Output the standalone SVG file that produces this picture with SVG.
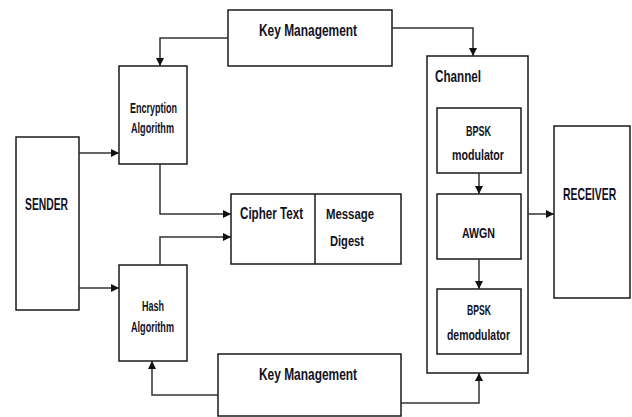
<svg xmlns="http://www.w3.org/2000/svg" width="632" height="417" viewBox="0 0 632 417">
  <style>
    .box { fill: #ffffff; stroke: #1a1a1a; stroke-width: 1.5; }
    .wire { fill: none; stroke: #333333; stroke-width: 1.5; marker-end: url(#arrow); }
    text { font-family: "Liberation Sans", Arial, sans-serif; fill: #111122; font-weight: bold; }
    .sm { font-size: 14px; }
    .lg { font-size: 16px; }
  </style>
  <defs>
    <marker id="arrow" viewBox="0 0 10 10" refX="10" refY="5" markerWidth="8" markerHeight="8" markerUnits="userSpaceOnUse" orient="auto">
      <path d="M0,0 L10,5 L0,10 Z" fill="#111111"/>
    </marker>
  </defs>
  <rect x="0" y="0" width="632" height="417" fill="#ffffff"/>

  <g id="key-management-top">
    <rect class="box" x="228" y="10" width="164" height="56"/>
    <text class="lg" x="259" y="36" textLength="98" lengthAdjust="spacingAndGlyphs">Key Management</text>
  </g>

  <g id="sender">
    <rect class="box" x="16" y="137" width="63" height="173"/>
    <text class="lg" x="25" y="210" textLength="43" lengthAdjust="spacingAndGlyphs">SENDER</text>
  </g>

  <g id="encryption">
    <rect class="box" x="119" y="66" width="68" height="98"/>
    <text class="sm" x="130" y="113" textLength="47" lengthAdjust="spacingAndGlyphs">Encryption</text>
    <text class="sm" x="131" y="133" textLength="43" lengthAdjust="spacingAndGlyphs">Algorithm</text>
  </g>

  <g id="hash">
    <rect class="box" x="119" y="265" width="68" height="96"/>
    <text class="sm" x="142" y="311" textLength="22" lengthAdjust="spacingAndGlyphs">Hash</text>
    <text class="sm" x="131" y="332" textLength="43" lengthAdjust="spacingAndGlyphs">Algorithm</text>
  </g>

  <g id="packet">
    <rect class="box" x="231" y="194" width="170" height="70"/>
    <line x1="315" y1="194" x2="315" y2="264" stroke="#1a1a1a" stroke-width="1.5"/>
    <text class="lg" x="240" y="219" textLength="63" lengthAdjust="spacingAndGlyphs">Cipher Text</text>
    <text class="sm" x="326" y="219" textLength="48" lengthAdjust="spacingAndGlyphs">Message</text>
    <text class="sm" x="330" y="246" textLength="34" lengthAdjust="spacingAndGlyphs">Digest</text>
  </g>

  <g id="channel">
    <rect class="box" x="427" y="56" width="101" height="317"/>
    <text class="lg" x="435" y="82" textLength="46" lengthAdjust="spacingAndGlyphs">Channel</text>
  </g>

  <g id="bpsk-modulator">
    <rect class="box" x="437" y="108" width="84" height="65"/>
    <text class="sm" x="466" y="136" textLength="25" lengthAdjust="spacingAndGlyphs">BPSK</text>
    <text class="sm" x="452" y="160" textLength="52" lengthAdjust="spacingAndGlyphs">modulator</text>
  </g>

  <g id="awgn">
    <rect class="box" x="437" y="194" width="84" height="65"/>
    <text class="sm" x="462" y="238" textLength="33" lengthAdjust="spacingAndGlyphs">AWGN</text>
  </g>

  <g id="bpsk-demodulator">
    <rect class="box" x="437" y="289" width="84" height="65"/>
    <text class="sm" x="467" y="315" textLength="24" lengthAdjust="spacingAndGlyphs">BPSK</text>
    <text class="sm" x="447" y="340" textLength="63" lengthAdjust="spacingAndGlyphs">demodulator</text>
  </g>

  <g id="receiver">
    <rect class="box" x="554" y="126" width="76" height="172"/>
    <!-- narrowed with a horizontal scale so the label stays inside the box -->
    <text class="lg" transform="translate(563,200) scale(0.65,1)">RECEIVER</text>
  </g>

  <g id="key-management-bottom">
    <rect class="box" x="218" y="354" width="183" height="62"/>
    <text class="lg" x="259" y="380" textLength="98" lengthAdjust="spacingAndGlyphs">Key Management</text>
  </g>

  <g id="connectors">
    <polyline class="wire" points="228,38 160,38 160,66"/>
    <polyline class="wire" points="392,28 473,28 473,56"/>
    <line class="wire" x1="79" y1="153" x2="119" y2="153"/>
    <line class="wire" x1="79" y1="288" x2="119" y2="288"/>
    <polyline class="wire" points="160,164 160,214 231,214"/>
    <polyline class="wire" points="160,265 160,237 231,237"/>
    <line class="wire" x1="479" y1="173" x2="479" y2="194"/>
    <line class="wire" x1="479" y1="259" x2="479" y2="289"/>
    <line class="wire" x1="528" y1="214" x2="554" y2="214"/>
    <polyline class="wire" points="218,395 152,395 152,361"/>
    <polyline class="wire" points="401,403 479,403 479,373"/>
  </g>
</svg>
